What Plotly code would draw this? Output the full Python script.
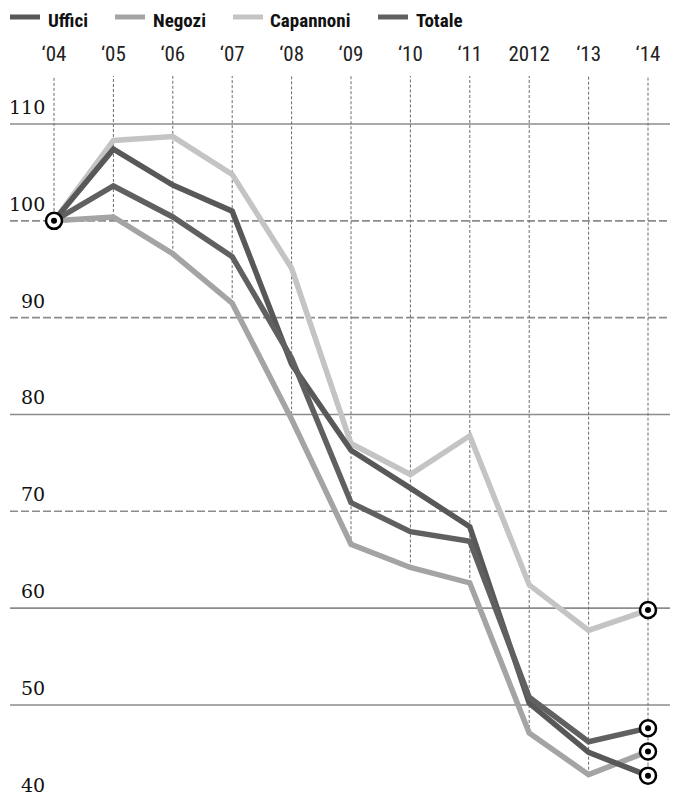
import plotly.graph_objects as go

# ---- data ----
years = ["\u201804", "\u201805", "\u201806", "\u201807", "\u201808", "\u201809",
         "\u201810", "\u201811", "2012", "\u201813", "\u201814"]
series_names = ["Uffici", "Negozi", "Capannoni", "Totale"]
uffici = [100, 107.4, 103.7, 101.0, 85.2, 76.3, 72.4, 68.4, 50.2, 45.1, 42.7]
negozi = [100, 100.4, 96.6, 91.5, 79.5, 66.6, 64.2, 62.6, 47.1, 42.8, 45.2]
capannoni = [100, 108.3, 108.7, 104.8, 95.1, 77.0, 73.8, 77.8, 62.4, 57.7, 59.8]
totale = [100, 103.6, 100.4, 96.3, 85.8, 70.9, 67.9, 66.9, 50.8, 46.2, 47.6]
y_grid = [40, 50, 60, 70, 80, 90, 100, 110]
grid_dashed = [70, 90, 100]

# ---- style ----
OFF = 8  # page body margin: the figure sits 8px from the window corner
W, H = 678 - OFF, 795 - OFF
ML, MR, MT, MB = 10 - OFF, 5, 76 - OFF, 0
PW, PH = W - ML - MR, H - MT - MB
YMIN, YTOP = 40.7, 114.96
PX_PER_UNIT = PH / (YTOP - YMIN)
colors = {"Uffici": "#585858", "Negozi": "#a4a4a4", "Capannoni": "#c4c4c4", "Totale": "#606060"}
values = {"Uffici": uffici, "Negozi": negozi, "Capannoni": capannoni, "Totale": totale}
draw_order = ["Capannoni", "Negozi", "Uffici", "Totale"]
SANS = "Liberation Sans Narrow, Roboto Condensed, Roboto, sans-serif"
SERIF = "DejaVu Serif, serif"

def px_x(p):  # window pixel -> paper x
    return (p - OFF - ML) / PW

def px_y(p):  # window pixel -> paper y
    return (H - MB - (p - OFF)) / PH

x = list(range(len(years)))
fig = go.Figure()

for name in draw_order:
    fig.add_trace(go.Scatter(x=x, y=values[name], mode="lines", name=name,
                             line=dict(color=colors[name], width=5.5),
                             hoverinfo="skip", showlegend=False))

# bullseye markers: start point and end points
mx = [x[0]] + [x[-1]] * len(series_names)
my = [uffici[0]] + [values[n][-1] for n in series_names]
fig.add_trace(go.Scatter(x=mx, y=my, mode="markers", showlegend=False, hoverinfo="skip",
                         marker=dict(size=16, color="white", line=dict(color="black", width=2.5))))
fig.add_trace(go.Scatter(x=mx, y=my, mode="markers", showlegend=False, hoverinfo="skip",
                         marker=dict(size=6, color="black")))

shapes = []
# horizontal gridlines
for g in y_grid:
    shapes.append(dict(type="line", xref="paper", yref="y", x0=0, x1=1, y0=g, y1=g,
                       line=dict(color="#8c8c8c", width=1.6,
                                 dash="8px,3px" if g in grid_dashed else "solid"),
                       layer="below"))
# vertical dashed lines from top down to lowest series value
for i in x:
    lo = min(values[n][i] for n in series_names)
    shapes.append(dict(type="line", xref="x", yref="y", x0=i, x1=i, y0=lo, y1=YTOP,
                       line=dict(color="#6a6a6a", width=1, dash="3px,2px"), layer="below"))

annotations = []
# y labels sit just above their gridline
for g in y_grid:
    annotations.append(dict(xref="paper", yref="y", x=px_x(47), y=g + 17 / PX_PER_UNIT,
                            text=str(g), showarrow=False, xanchor="right", yanchor="middle",
                            font=dict(family=SERIF, size=19, color="#111")))

# custom legend
sw_x = [10, 115, 233, 378]
tx_x = [47, 152, 269, 415]
for name, sx, tx in zip(series_names, sw_x, tx_x):
    shapes.append(dict(type="line", xref="paper", yref="paper",
                       x0=px_x(sx), x1=px_x(sx + 30), y0=px_y(17), y1=px_y(17),
                       line=dict(color=colors[name], width=5)))
    annotations.append(dict(xref="paper", yref="paper", x=px_x(tx), y=px_y(OFF),
                            text="<b>" + name + "</b>", showarrow=False, borderpad=0,
                            xanchor="left", yanchor="top",
                            font=dict(family=SANS, size=19, color="#111")))

fig.update_layout(
    width=W, height=H, margin=dict(l=ML, r=MR, t=MT, b=MB),
    paper_bgcolor="white", plot_bgcolor="white",
    shapes=shapes, annotations=annotations, showlegend=False,
)
fig.update_xaxes(range=[-(54 - 10) / 59.4, 10 + (673 - 648) / 59.4],
                 side="top", tickvals=x, ticktext=years, ticks="",
                 showgrid=False, zeroline=False, showline=False,
                 ticklabelstandoff=10,
                 tickfont=dict(family=SANS, size=21, color="#222"))
fig.update_yaxes(range=[YMIN, YTOP], showgrid=False, zeroline=False,
                 showline=False, showticklabels=False)

fig.write_html("out.html")
